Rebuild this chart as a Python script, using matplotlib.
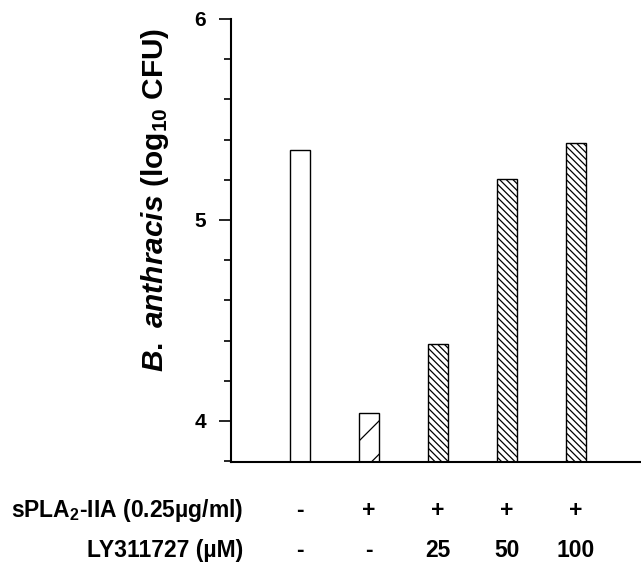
import matplotlib
matplotlib.use("Agg")
import matplotlib.pyplot as plt
from matplotlib.ticker import MultipleLocator
from matplotlib.transforms import blended_transform_factory

plt.rcParams['font.family'] = ['Liberation Sans', 'DejaVu Sans']
plt.rcParams['font.weight'] = 'bold'
plt.rcParams['mathtext.fontset'] = 'custom'
plt.rcParams['mathtext.rm'] = 'Liberation Sans:bold'
plt.rcParams['mathtext.it'] = 'Liberation Sans:italic:bold'
plt.rcParams['mathtext.bf'] = 'Liberation Sans:bold'
plt.rcParams['mathtext.default'] = 'rm'
plt.rcParams['hatch.linewidth'] = 0.9

# data
values = [5.35, 4.04, 4.385, 5.205, 5.385]
hatches = ['', '/', '\\\\\\\\\\', '\\\\\\\\\\', '\\\\\\\\\\']
spla_row = ['-', '+', '+', '+', '+']
ly_row = ['-', '-', '25', '50', '100']
row_labels = [r'sPLA$_2$-IIA (0.25µg/ml)', 'LY311727 (µM)']
ylabel = r'$\mathit{B.\ anthracis}$ (log$_{10}$ CFU)'

fig = plt.figure(figsize=(6.41, 5.72), dpi=100)
ax = fig.add_axes([0.3604, 0.1923, 0.6396, 0.7745])

x = list(range(len(values)))
ymin = 3.796
bars = ax.bar(x, [v - ymin for v in values], bottom=ymin, width=0.29,
              color='white', edgecolor='black', linewidth=1.0)
for b, h in zip(bars, hatches):
    b.set_hatch(h)

ax.set_xlim(-1.0, 4.94)
ax.set_ylim(ymin, 6.0)
ax.yaxis.set_minor_locator(MultipleLocator(0.2))
ax.set_yticks([4, 5, 6])
ax.set_yticklabels(['4', '5', '6'])
ax.tick_params(axis='y', which='major', direction='out', length=9, width=1.2,
               pad=9, labelsize=15)
ax.tick_params(axis='y', which='minor', direction='out', length=5, width=1.2)
ax.tick_params(axis='x', bottom=False, labelbottom=False)
for s in ['top', 'right']:
    ax.spines[s].set_visible(False)
ax.spines['left'].set_linewidth(1.5)
ax.spines['bottom'].set_linewidth(1.5)

ax.set_ylabel(ylabel, fontsize=21.5, fontweight='bold')
ax.yaxis.set_label_coords(-0.146, 0.591)

trans = blended_transform_factory(ax.transData, ax.transAxes)
row_y = [-0.11, -0.199]
for ry, lab, row in zip(row_y, row_labels, [spla_row, ly_row]):
    ax.text(-0.826, ry, lab, transform=trans, ha='right', va='center',
            fontsize=16.5, fontweight='bold', clip_on=False)
    for xi, t in zip(x, row):
        ax.text(xi, ry, t, transform=trans, ha='center', va='center',
                fontsize=16.5, fontweight='bold', clip_on=False)

fig.savefig('out.png', dpi=100)
